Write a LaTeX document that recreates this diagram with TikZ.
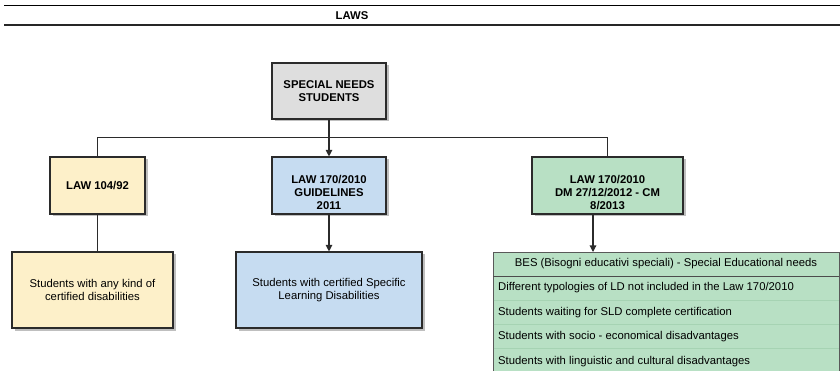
\documentclass[tikz,border=0pt]{standalone}
\usepackage{fontspec}
\setmainfont{Liberation Sans}
\usetikzlibrary{shadows,arrows.meta}
\definecolor{cyel}{HTML}{FDF0C9}
\definecolor{cblue}{HTML}{C6DCF1}
\definecolor{cgreen}{HTML}{B8E0C4}
\definecolor{cgray}{HTML}{DEDEDE}
\definecolor{cline}{HTML}{2B2B2B}
\definecolor{crow}{HTML}{A6D3B3}
\begin{document}
\begin{tikzpicture}[x=1pt,y=-1pt,
  box/.style={draw=cline, line width=1.1pt, inner sep=0pt, align=center,
    font=\fontsize{11.3}{13}\selectfont,
    drop shadow={shadow xshift=2.5pt,shadow yshift=-2.5pt,fill=black,opacity=0.25}},
  boldbox/.style={box, font=\bfseries\fontsize{11.3}{13}\selectfont},
  txt/.style={inner sep=0pt, align=center, font=\bfseries\fontsize{11.3}{13}\selectfont},
  rowtxt/.style={inner sep=0pt, anchor=west, font=\fontsize{11.3}{13}\selectfont},
  conn/.style={draw=cline, line width=1.1pt},
  arr/.style={conn, -{Triangle[width=6.5pt,length=6.5pt]}}
]
\useasboundingbox (0,0) rectangle (840,371);
% header band
\draw[line width=1pt] (4,6) -- (840,6);
\draw[line width=1.2pt, draw=black!85] (4,25) -- (840,25);
\node[txt] (laws) at (352,15.5) {LAWS};
% top node
\node[boldbox, fill=cgray, minimum width=114pt, minimum height=56pt] (sn) at (329,91) {SPECIAL NEEDS\\STUDENTS};
% law nodes
\node[boldbox, fill=cyel, minimum width=95pt, minimum height=57pt] (lawA) at (97.5,185.5) {LAW 104/92};
\node[boldbox, fill=cblue, minimum width=114pt, minimum height=57pt] (lawB) at (329,185.5) {};
\node[txt] (lawBt) at ([yshift=-7pt]lawB.center) {LAW 170/2010\\GUIDELINES\\2011};
\node[boldbox, fill=cgreen, minimum width=151pt, minimum height=57pt] (lawC) at (607.5,185.5) {};
\node[txt] (lawCt) at ([yshift=-7pt]lawC.center) {LAW 170/2010\\DM 27/12/2012 - CM\\8/2013};
% student nodes
\node[box, fill=cyel, minimum width=161pt, minimum height=76pt] (stuA) at (92.5,290) {Students with any kind of\\certified disabilities};
\node[box, fill=cblue, minimum width=186pt, minimum height=76pt] (stuB) at (329,290) {Students with certified Specific\\Learning Disabilities};
% BES list
\node[box, fill=cgreen, draw=black!65, minimum width=346pt, minimum height=130pt, anchor=north west] (bes) at (493,252) {};
\draw[draw=black!70, line width=0.9pt] (493,276) -- (839,276);
\foreach \yy in {300,324,348} \draw[draw=crow, line width=0.6pt] (493.5,\yy) -- (838.5,\yy);
\node[inner sep=0pt, font=\fontsize{11.3}{13}\selectfont] (besh) at (666,264) {BES (Bisogni educativi speciali) - Special Educational needs};
\node[rowtxt] (r1) at (498,288) {Different typologies of LD not included in the Law 170/2010};
\node[rowtxt] (r2) at (498,312.5) {Students waiting for SLD complete certification};
\node[rowtxt] (r3) at (498,337) {Students with socio - economical disadvantages};
\node[rowtxt] (r4) at (498,362) {Students with linguistic and cultural disadvantages};
% connectors
\draw[arr] (sn.south) -- (lawB.north);
\draw[conn] (lawA.north) -- ++(0,-19) -| (lawC.north);
\draw[conn] (lawA.south) -- (lawA.south |- stuA.north);
\draw[arr] (lawB.south) -- (stuB.north);
\draw[arr] ([xshift=-14.5pt]lawC.south) -- ([xshift=-14.5pt]lawC.south |- bes.north);
\end{tikzpicture}
\end{document}
